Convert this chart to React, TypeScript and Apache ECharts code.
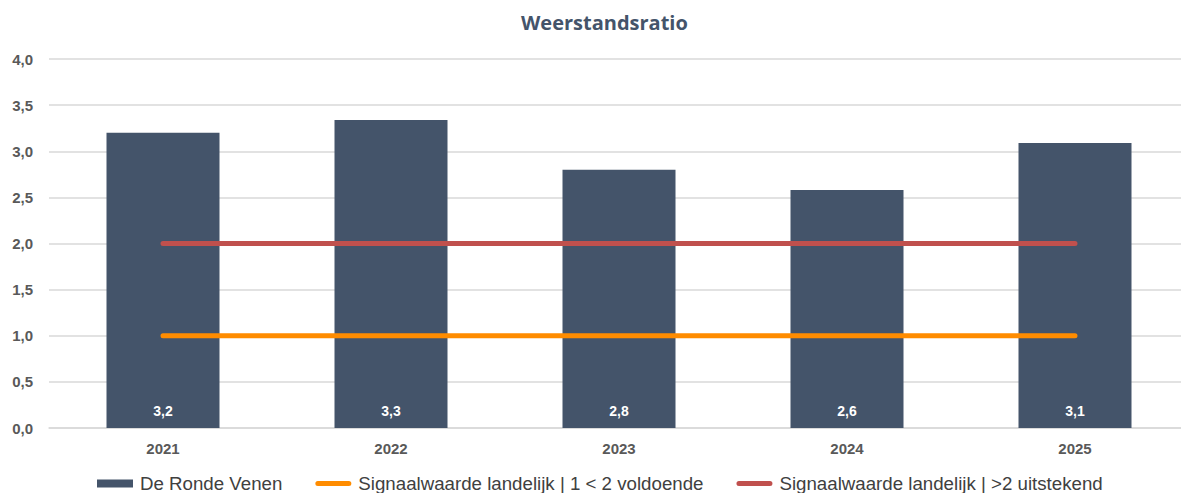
import React, { useEffect, useRef } from "react";
import * as echarts from "echarts";

const categories = ["2021", "2022", "2023", "2024", "2025"];
const ratioValues = [3.2, 3.34, 2.8, 2.58, 3.09];
const voldoendeValues = [1, 1, 1, 1, 1];
const uitstekendValues = [2, 2, 2, 2, 2];
const seriesNames = [
  "De Ronde Venen",
  "Signaalwaarde landelijk | 1 < 2 voldoende",
  "Signaalwaarde landelijk | >2 uitstekend",
];

const fmt = (v: number) => v.toFixed(1).replace(".", ",");
const linePath =
  "path://M2.5,0 H33.5 A2.5,2.5 0 0 1 33.5,5 H2.5 A2.5,2.5 0 0 1 2.5,0 Z";

export default function App() {
  const ref = useRef<HTMLDivElement>(null);
  useEffect(() => {
    if (!ref.current) return;
    const chart = echarts.init(ref.current, null, { renderer: "svg" });
    chart.setOption({
      animation: false,
      backgroundColor: "#ffffff",
      title: {
        text: "Weerstandsratio",
        left: 516,
        top: 7,
        textStyle: {
          fontFamily: "Open Sans",
          fontSize: 20,
          fontWeight: "bold",
          color: "#44546a",
        },
      },
      grid: { left: 49, width: 1140, top: 59, bottom: 65 },
      legend: {
        left: 97,
        top: 474,
        padding: 0,
        itemWidth: 36,
        itemHeight: 8,
        itemGap: 33,
        textStyle: {
          fontFamily: "Liberation Sans",
          fontSize: 18.7,
          lineHeight: 19,
          color: "#404040",
          padding: [0, 0, 0, 2],
        },
        data: [
          { name: seriesNames[0], icon: "rect" },
          { name: seriesNames[1], icon: linePath },
          { name: seriesNames[2], icon: linePath },
        ],
      },
      xAxis: {
        type: "category",
        data: categories,
        axisLine: { lineStyle: { color: "#d9d9d9", width: 1.5 } },
        axisTick: { show: false },
        axisLabel: {
          margin: 13,
          fontFamily: "Liberation Sans",
          fontSize: 15,
          fontWeight: "bold",
          color: "#595959",
        },
      },
      yAxis: {
        type: "value",
        min: 0,
        max: 4,
        interval: 0.5,
        axisLine: { show: false },
        axisTick: { show: false },
        splitLine: { lineStyle: { color: "#d9d9d9", width: 1.5 } },
        axisLabel: {
          margin: 16,
          formatter: (v: number) => fmt(v),
          fontFamily: "Liberation Sans",
          fontSize: 15,
          fontWeight: "bold",
          color: "#595959",
        },
      },
      series: [
        {
          name: seriesNames[0],
          type: "bar",
          data: ratioValues,
          barWidth: 113,
          itemStyle: { color: "#44546a" },
          label: {
            show: true,
            position: "insideBottom",
            distance: 10,
            formatter: (p: any) => fmt(p.value),
            fontFamily: "Liberation Sans",
            fontSize: 14,
            fontWeight: "bold",
            color: "#ffffff",
          },
        },
        {
          name: seriesNames[1],
          type: "line",
          data: voldoendeValues,
          symbol: "none",
          z: 5,
          itemStyle: { color: "#ff8c00" },
          lineStyle: { color: "#ff8c00", width: 5, cap: "round" },
        },
        {
          name: seriesNames[2],
          type: "line",
          data: uitstekendValues,
          symbol: "none",
          z: 5,
          itemStyle: { color: "#c0504d" },
          lineStyle: { color: "#c0504d", width: 5, cap: "round" },
        },
      ],
    });
    return () => chart.dispose();
  }, []);
  return (
    <div
      style={{
        position: "absolute",
        left: 0,
        top: 0,
        width: 1181,
        height: 493,
        overflow: "hidden",
      }}
    >
      <div ref={ref} style={{ width: 1190, height: 493 }} />
    </div>
  );
}
